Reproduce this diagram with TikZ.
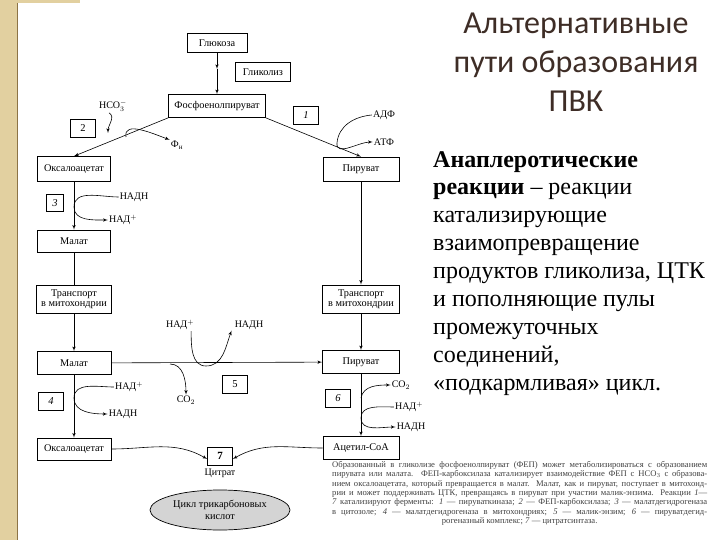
\documentclass[tikz,border=0pt]{standalone}
\usepackage{fontspec}
\setmainfont{Liberation Serif}
\newfontfamily\titlefont{Carlito}
\usepackage{xcolor}
\usetikzlibrary{shapes, arrows, positioning, calc}

\definecolor{slidebeige}{RGB}{226,208,160}
\definecolor{slideedge}{RGB}{140,115,70}
\definecolor{titlebrown}{RGB}{62,45,38}
\definecolor{tcagray}{RGB}{212,212,212}

\begin{document}
\begin{tikzpicture}[
    x=1pt, y=-1pt,
    box/.style={rectangle, draw, line width=0.7pt, minimum width=73pt, minimum height=23pt, inner sep=1pt, align=center, font=\fontsize{10.3}{10.5}\selectfont},
    num/.style={rectangle, draw, line width=0.7pt, minimum width=25pt, minimum height=18pt, inner sep=0pt, font=\fontsize{10.5}{11}\selectfont\itshape},
    upnum/.style={num, font=\fontsize{10.5}{11}\selectfont\upshape},
    lbl/.style={inner sep=1pt, font=\fontsize{10}{11}\selectfont},
    line/.style={draw, line width=0.6pt, -latex'},
    link/.style={draw, line width=0.6pt},
    tcaoval/.style={ellipse, draw, line width=0.7pt, fill=tcagray, minimum width=140pt, minimum height=40pt, align=center, inner sep=0pt, font=\fontsize{10.3}{11.5}\selectfont}
]
\useasboundingbox (0,0) rectangle (720,540);

% slide frame
\fill[slidebeige] (0,0) rectangle (17,540);
\fill[slidebeige] (17,0) rectangle (80,3);
\draw[slideedge, line width=0.8pt] (17,3) -- (17,540);

% Nodes
\node[box, minimum width=60, minimum height=19] (gluc) at (217,43) {Глюкоза};
\node[box, minimum width=55, minimum height=19] (glyc) at (263,72) {Гликолиз};
\node[box, minimum width=97] (pep) at (217,106) {Фосфоенолпируват};
\node[box, minimum height=25] (oxa) at (74,169) {Оксалоацетат};
\node[box, minimum width=76, minimum height=24] (pyr) at (361,169) {Пируват};
\node[box, minimum height=22] (mal) at (74,241) {Малат};
\node[box, minimum width=75, minimum height=28] (trl) at (74,299) {Транспорт\\в митохондрии};
\node[box, minimum width=77, minimum height=28] (trr) at (361,299) {Транспорт\\в митохондрии};
\node[box, minimum width=74] (mal2) at (74,363) {Малат};
\node[box, minimum width=77] (pyr2) at (361,362) {Пируват};
\node[box, minimum width=74, minimum height=22] (oxa2) at (74,449) {Оксалоацетат};
\node[box, minimum width=76] (acoa) at (361,448) {Ацетил-СоА};
\node[tcaoval] (tca) at (220,510) {Цикл трикарбоновых\\кислот};

% enzyme numbers
\node[num] (r1) at (306,115) {1};
\node[upnum] (r2) at (83,128) {2};
\node[num, minimum width=17, minimum height=17] (r3) at (55,203) {3};
\node[num] (r4) at (51,401) {4};
\node[upnum] (r5) at (235,384) {5};
\node[num] (r6) at (338,398) {6};
\node[upnum, font=\fontsize{11}{11}\selectfont\bfseries] (r7) at (220,456) {7};
\node[lbl, below=2pt of r7] (cit) {Цитрат};

% cofactors
\node[lbl] (hco) at (113,106) {НСО$_3^-$};
\node[lbl] (fn) at (177,145) {Ф\textsubscript{н}};
\node[lbl] (adp) at (384,115) {АДФ};
\node[lbl] (atp) at (384,142) {АТФ};
\node[lbl] (nadh3) at (134,197) {НАДН};
\node[lbl] (nad3) at (123,220) {НАД$^+$};
\node[lbl] (nad5) at (180,325) {НАД$^+$};
\node[lbl] (nadh5) at (249,325) {НАДН};
\node[lbl] (co2m) at (186,400) {СО$_2$};
\node[lbl] (nad4) at (129,387) {НАД$^+$};
\node[lbl] (nadh4) at (123,414) {НАДН};
\node[lbl] (co2r) at (401,385) {СО$_2$};
\node[lbl] (nad6) at (409,407) {НАД$^+$};
\node[lbl] (nadh6) at (411,427) {НАДН};

\coordinate (mglu) at (217,69);
\coordinate (p2) at (108,133);
\coordinate (q2) at (126,137);
\coordinate (p1) at (337,143);
\coordinate (c3) at (74,207);
\coordinate (c4) at (74,398);
\coordinate (c5) at (206,366);
\coordinate (c5b) at (170,364);
\coordinate (c6a) at (361,398);
\coordinate (c6b) at (361,418);

% Paths
\path[line] (gluc) -- (mglu);
\path[line] (mglu) -- (pep);
\path[line] (pep.south west) -- (oxa.north);
\path[line] (pep.south east) -- (pyr.north);
\path[line] (oxa) -- (mal);
\path[link] (mal) -- (trl);
\path[line] (trl) -- (mal2);
\path[line] (mal2) -- (oxa2);
\path[line] (pyr) -- (trr);
\path[line] (trr) -- (pyr2);
\path[line] (pyr2) -- (acoa);
\path[line] (mal2) -- (pyr2);
\path[line] (oxa2.east) to[out=0,in=150] ([yshift=-3pt]r7.west);
\path[line] (acoa.west) to[out=180,in=30] ([yshift=-3pt]r7.east);

% side reactions
\path[line] ([xshift=-4pt]hco.south) to[out=-30,in=90] (p2);
\path[line] (q2) to[out=100,in=160] (fn.north west);
\path[line] (adp.west) to[out=185,in=85] (p1) to[out=-95,in=180] (atp.west);
\path[line] (nadh3.west) to[out=180,in=90] (c3) to[out=-90,in=180] (nad3.west);
\path[line] ([xshift=-4pt]nad5.south east) to[out=-90,in=180] (c5) to[out=0,in=-110] ([xshift=-2pt]nadh5.south west);
\path[line] (c5b) to[out=0,in=90] (co2m.north);
\path[line] (nad4.west) to[out=180,in=90] (c4) to[out=-90,in=180] (nadh4.west);
\path[line] (c6a) to[out=80,in=180] (co2r.west);
\path[line] (nad6.west) to[out=180,in=90] (c6b) to[out=-90,in=180] (nadh6.west);

% slide text
\node[font=\titlefont\fontsize{32}{39}\selectfont, text=titlebrown, align=center] (title) at (576,62) {Альтернативные\\пути образования\\ПВК};
\node[anchor=north west, align=left, inner sep=0pt, font=\fontsize{24}{27.9}\selectfont] (defn) at (433,151) {\textbf{Анаплеротические}\\\textbf{реакции} – реакции\\катализирующие\\взаимопревращение\\продуктов гликолиза, ЦТК\\и пополняющие пулы\\промежуточных\\соединений,\\«подкармливая» цикл.};
\node[anchor=north west, text width=375pt, inner sep=0pt, text=black!75, font=\fontsize{8.6}{9.4}\selectfont, align=justify] (capt) at (332,461) {Образованный в гликолизе фосфоенолпируват (ФЕП) может метаболизироваться с образованием\linebreak пирувата или малата. ФЕП-карбоксилаза катализирует взаимодействие ФЕП с НСО$_3$ с образова-\linebreak нием оксалоацетата, который превращается в малат. Малат, как и пируват, поступает в митохонд-\linebreak рии и может поддерживать ЦТК, превращаясь в пируват при участии малик-энзима. Реакции \textit{1}—\linebreak \textit{7} катализируют ферменты: \textit{1} — пируваткиназа; \textit{2} — ФЕП-карбоксилаза; \textit{3} — малатдегидрогеназа\linebreak в цитозоле; \textit{4} — малатдегидрогеназа в митохондриях; \textit{5} — малик-энзим; \textit{6} — пируватдегид-\linebreak\hspace*{\fill}рогеназный комплекс; \textit{7} — цитратсинтаза.\hspace*{\fill}};

\end{tikzpicture}
\end{document}
